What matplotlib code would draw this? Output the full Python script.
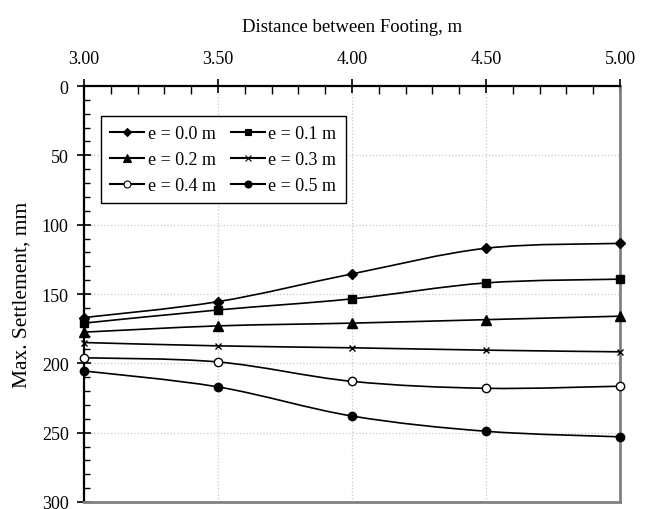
import matplotlib.pyplot as plt
import numpy as np
from matplotlib.path import Path
from matplotlib.patches import PathPatch
from matplotlib.lines import Line2D
from matplotlib.ticker import MultipleLocator, FormatStrFormatter

plt.rcParams['font.family'] = ['Liberation Serif', 'DejaVu Serif']

# datos
distancia = [3.0, 3.5, 4.0, 4.5, 5.0]
etiquetas = ['e = 0.0 m', 'e = 0.1 m', 'e = 0.2 m', 'e = 0.3 m', 'e = 0.4 m', 'e = 0.5 m']
s_e00 = [167.0, 155.5, 135.5, 117.0, 113.5]
s_e01 = [171.0, 161.5, 153.5, 142.0, 139.3]
s_e02 = [177.5, 173.0, 171.0, 168.5, 166.0]
s_e03 = [185.0, 187.4, 188.8, 190.5, 191.7]
s_e04 = [196.0, 199.0, 213.0, 218.0, 216.5]
s_e05 = [205.5, 217.0, 238.0, 249.0, 253.0]
series = [s_e00, s_e01, s_e02, s_e03, s_e04, s_e05]

marcadores = ['D', 's', '^', 'x', 'o', 'o']
tam = [5, 6, 7, 5, 6, 6]
relleno = ['black', 'black', 'black', 'black', 'white', 'black']


# curva suave tipo excel (bezier entre puntos)
def curva(x, y):
    p = np.column_stack([x, y])
    n = len(p)
    verts = [p[0]]
    codes = [Path.MOVETO]
    for i in range(n - 1):
        p0 = p[max(i - 1, 0)]
        p1 = p[i]
        p2 = p[i + 1]
        p3 = p[min(i + 2, n - 1)]
        verts += [p1 + (p2 - p0) / 6, p2 - (p3 - p1) / 6, p2]
        codes += [Path.CURVE4] * 3
    return Path(verts, codes)


fig = plt.figure(figsize=(6.46, 5.10), dpi=100)
ax = fig.add_axes([84 / 646, 7 / 510, 536 / 646, 416 / 510])

handles = []
for s, m, ms, fc, lab in zip(series, marcadores, tam, relleno, etiquetas):
    ax.add_patch(PathPatch(curva(distancia, s), facecolor='none', edgecolor='black', lw=1.2, zorder=3))
    ax.plot(distancia, s, linestyle='none', marker=m, ms=ms, mfc=fc, mec='black', mew=1.0,
            clip_on=False, zorder=4)
    handles.append(Line2D([], [], color='black', lw=1.5, marker=m, ms=ms - 1, mfc=fc, mec='black',
                          mew=0.8, label=lab))

ax.set_xlim(3.0, 5.0)
ax.set_ylim(300, 0)
ax.xaxis.tick_top()
ax.xaxis.set_label_position('top')
ax.xaxis.set_major_locator(MultipleLocator(0.5))
ax.xaxis.set_minor_locator(MultipleLocator(0.1))
ax.xaxis.set_major_formatter(FormatStrFormatter('%.2f'))
ax.yaxis.set_major_locator(MultipleLocator(50))
ax.yaxis.set_minor_locator(MultipleLocator(10))

ax.tick_params(axis='x', which='major', direction='inout', length=10, width=1.2, pad=9, labelsize=13)
ax.tick_params(axis='x', which='minor', direction='in', length=6, width=1.0)
ax.tick_params(axis='y', which='major', direction='inout', length=10, width=1.2, pad=6, labelsize=13)
ax.tick_params(axis='y', which='minor', direction='in', length=4, width=1.0)

ax.set_xlabel('Distance between Footing, m', fontsize=13.5, labelpad=13)
ax.set_ylabel('Max. Settlement, mm', fontsize=15.5, labelpad=7)

ax.grid(True, which='major', color='#c8c8c8', linestyle=':', linewidth=0.9)
ax.set_axisbelow(True)

ax.spines['left'].set_linewidth(1.6)
ax.spines['top'].set_linewidth(1.6)
ax.spines['right'].set_color('#808080')
ax.spines['right'].set_linewidth(2)
ax.spines['bottom'].set_color('#808080')
ax.spines['bottom'].set_linewidth(2)

# orden por filas como en el original
orden = [0, 2, 4, 1, 3, 5]
leg = ax.legend(handles=[handles[i] for i in orden], ncol=2, loc='upper left',
                bbox_to_anchor=(0.032, 0.928),
                borderaxespad=0, fancybox=False, edgecolor='black', framealpha=1,
                fontsize=13, handlelength=1.9, handletextpad=0.2, columnspacing=0.8,
                labelspacing=0.5, borderpad=0.5)
leg.get_frame().set_linewidth(1.0)

fig.savefig('out.png', dpi=100)
